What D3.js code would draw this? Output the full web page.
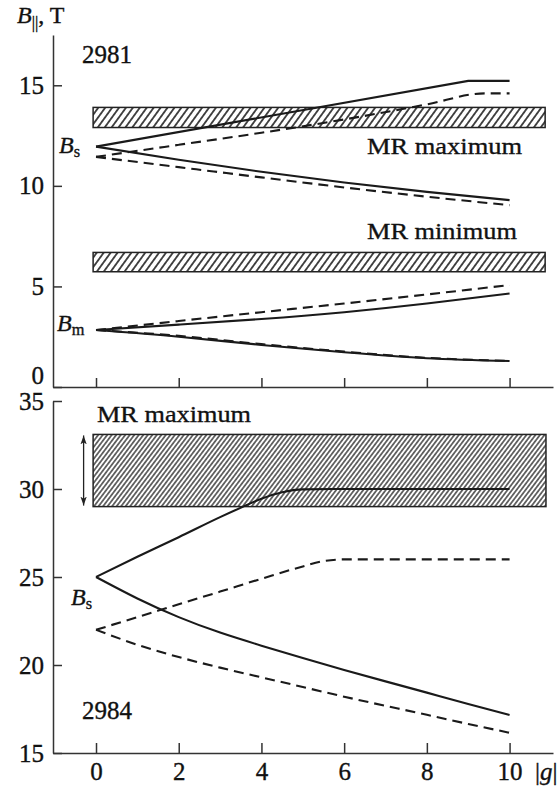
<!DOCTYPE html>
<html>
<head>
<meta charset="utf-8">
<script src="https://cdn.jsdelivr.net/npm/d3@7"></script>
<style>
  body { margin: 0; background: #fff; }
  svg text { font-family: "Liberation Serif", "Times New Roman", serif; fill: #111; stroke: #111; stroke-width: 0.35px; }
</style>
</head>
<body>
<div id="chart"></div>
<script>
// |g| ticks and axis ticks
var gTicks = [0, 2, 4, 6, 8, 10];
var topTicks = [0, 5, 10, 15];
var bottomTicks = [15, 20, 25, 30, 35];

// sample 2981 (upper panel), points are [|g|, B]
var s2981SolidUp = [[0, 11.95], [9, 15.22], [10, 15.22]];
var s2981DashUp = [[0, 11.44], [2, 12.04], [4, 12.64], [6, 13.3], [8, 14.05], [9.4, 14.6], [10, 14.6]];
var s2981SolidDown = [[0, 11.95], [2, 11.3], [4, 10.7], [6, 10.17], [8, 9.7], [10, 9.29]];
var s2981DashDown = [[0, 11.44], [2, 10.93], [4, 10.42], [6, 9.92], [8, 9.46], [10, 9.04]];
var m2981SolidUp = [[0, 2.83], [2, 3.1], [4, 3.38], [6, 3.72], [8, 4.15], [10, 4.65]];
var m2981DashUp = [[0, 2.83], [2, 3.28], [4, 3.72], [6, 4.15], [8, 4.6], [10, 5.07]];
var m2981SolidDown = [[0, 2.83], [2, 2.5], [4, 2.09], [6, 1.73], [8, 1.43], [10, 1.29]];
var m2981DashDown = [[0, 2.83], [2, 2.54], [4, 2.13], [6, 1.76], [8, 1.45], [10, 1.3]];

// sample 2984 (lower panel)
var s2984SolidUp = [[0, 25], [1, 26.15], [2, 27.26], [3, 28.4], [3.56, 29.0], [4, 29.45], [4.5, 29.82], [5, 29.98], [6, 30], [10, 30]];
var s2984SolidDown = [[0, 25], [1, 23.78], [2, 22.72], [3, 21.84], [4, 21.1], [5, 20.4], [6, 19.72], [7, 19.07], [8, 18.43], [9, 17.79], [10, 17.16]];
var s2984DashUp = [[0, 22], [1, 22.72], [2, 23.45], [3, 24.17], [4, 24.9], [5, 25.6], [5.5, 25.9], [6, 26], [10, 26]];
var s2984DashDown = [[0, 22], [1, 21.15], [2, 20.45], [3, 19.85], [4, 19.3], [5, 18.75], [6, 18.2], [7, 17.68], [8, 17.17], [9, 16.65], [10, 16.15]];

// MR extrema bands: [g from, g to, B low, B high]
var bandTopMax = [-0.07, 10.86, 12.9, 13.9];
var bandTopMin = [-0.07, 10.86, 5.73, 6.69];
var bandBottomMax = [-0.07, 10.88, 29.0, 33.1];

var svg = d3.select("#chart").append("svg")
    .attr("width", 558)
    .attr("height", 789);

var defs = svg.append("defs");

function hatch(id, w, angle, sw) {
    var p = defs.append("pattern")
        .attr("id", id)
        .attr("patternUnits", "userSpaceOnUse")
        .attr("width", w)
        .attr("height", 10)
        .attr("patternTransform", "rotate(" + angle + ")");
    p.append("rect").attr("width", w).attr("height", 10).attr("fill", "#fff");
    p.append("line")
        .attr("x1", w / 2).attr("x2", w / 2)
        .attr("y1", 0).attr("y2", 10)
        .attr("stroke", "#111")
        .attr("stroke-width", sw);
}
hatch("hatchTop", 5.6, 36, 1.5);
hatch("hatchBottom", 3.6, 37, 1.2);

defs.append("marker")
    .attr("id", "arrow")
    .attr("viewBox", "0 0 10 10")
    .attr("refX", 10).attr("refY", 5)
    .attr("markerWidth", 9).attr("markerHeight", 9)
    .attr("markerUnits", "userSpaceOnUse")
    .attr("orient", "auto-start-reverse")
    .append("path")
    .attr("d", "M0,1.5 L10,5 L0,8.5 L2.5,5 Z")
    .attr("fill", "#222");

// scales
var x = d3.scaleLinear().domain([-1.04, 11.05]).range([53, 553]);
var yTop = d3.scaleLinear().domain([0, 17.5]).range([387, 35]);
var yBot = d3.scaleLinear().domain([15, 35]).range([753, 401]);

function styleAxis(g) {
    g.selectAll("path, line").attr("stroke", "#333").attr("stroke-width", 1.5);
    g.selectAll("text")
        .style("font-family", "'Liberation Serif', serif")
        .style("font-size", "25px")
        .attr("fill", "#111");
}

// upper panel axes
svg.append("g")
    .attr("transform", "translate(0," + yTop(0) + ")")
    .call(d3.axisBottom(x).tickValues(gTicks).tickSizeInner(-9).tickSizeOuter(0).tickFormat(""))
    .call(styleAxis);

var topY = svg.append("g")
    .attr("transform", "translate(" + x.range()[0] + ",0)")
    .call(d3.axisLeft(yTop).tickValues(topTicks).tickSizeInner(-9).tickSizeOuter(0).tickPadding(9))
    .call(styleAxis);
topY.selectAll(".tick text").attr("dy", function(d) { return d === 0 ? "-0.15em" : "0.32em"; });

// lower panel axes
svg.append("g")
    .attr("transform", "translate(0," + yBot(15) + ")")
    .call(d3.axisBottom(x).tickValues(gTicks).tickSizeInner(-10).tickSizeOuter(0).tickPadding(9))
    .call(styleAxis);

svg.append("g")
    .attr("transform", "translate(" + x.range()[0] + ",0)")
    .call(d3.axisLeft(yBot).tickValues(bottomTicks).tickSizeInner(-9).tickSizeOuter(0).tickPadding(9))
    .call(styleAxis);

// hatched bands
function band(b, yS, fill) {
    svg.append("rect")
        .attr("x", x(b[0]))
        .attr("y", yS(b[3]))
        .attr("width", x(b[1]) - x(b[0]))
        .attr("height", yS(b[2]) - yS(b[3]))
        .attr("fill", "url(#" + fill + ")")
        .attr("stroke", "#222")
        .attr("stroke-width", 1.5);
}
band(bandTopMax, yTop, "hatchTop");
band(bandTopMin, yTop, "hatchTop");
band(bandBottomMax, yBot, "hatchBottom");

// arrow marking the width of the lower band
svg.append("line")
    .attr("x1", x(-0.3)).attr("x2", x(-0.3))
    .attr("y1", yBot(bandBottomMax[3]) + 1)
    .attr("y2", yBot(bandBottomMax[2]) - 1)
    .attr("stroke", "#222")
    .attr("stroke-width", 1.3)
    .attr("marker-start", "url(#arrow)")
    .attr("marker-end", "url(#arrow)");

// curves
function draw(data, yS, dashed, curve) {
    var line = d3.line()
        .x(function(d) { return x(d[0]); })
        .y(function(d) { return yS(d[1]); })
        .curve(curve);
    svg.append("path")
        .datum(data)
        .attr("d", line)
        .attr("fill", "none")
        .attr("stroke", "#1a1a1a")
        .attr("stroke-width", 2.1)
        .attr("stroke-dasharray", dashed ? "10,6" : null);
}
draw(s2981SolidUp, yTop, false, d3.curveLinear);
draw(s2981DashUp, yTop, true, d3.curveMonotoneX);
draw(s2981SolidDown, yTop, false, d3.curveNatural);
draw(s2981DashDown, yTop, true, d3.curveNatural);
draw(m2981DashUp, yTop, true, d3.curveNatural);
draw(m2981SolidUp, yTop, false, d3.curveNatural);
draw(m2981DashDown, yTop, true, d3.curveNatural);
draw(m2981SolidDown, yTop, false, d3.curveNatural);
draw(s2984SolidUp, yBot, false, d3.curveMonotoneX);
draw(s2984SolidDown, yBot, false, d3.curveNatural);
draw(s2984DashUp, yBot, true, d3.curveMonotoneX);
draw(s2984DashDown, yBot, true, d3.curveNatural);

// labels
function label(tx, ty, size, parts) {
    var t = svg.append("text").attr("x", tx).attr("y", ty).style("font-size", size + "px");
    parts.forEach(function(p) {
        var s = t.append("tspan").text(p.text);
        if (p.italic) s.style("font-style", "italic");
        if (p.small) s.style("font-size", (size * 0.68) + "px");
        if (p.dy) s.attr("dy", p.dy);
    });
    return t;
}

label(17, 23, 24, [{text: "B", italic: true}, {text: "||", small: true, dy: 5}, {text: ", T", dy: -5}]);
label(59, 153, 24, [{text: "B", italic: true}, {text: "s", small: true, dy: 4}]);
label(57, 331, 24, [{text: "B", italic: true}, {text: "m", small: true, dy: 4}]);
label(71, 605, 24, [{text: "B", italic: true}, {text: "s", small: true, dy: 4}]);

label(82, 63, 25, [{text: "2981"}]);
label(82, 719, 25, [{text: "2984"}]);

label(367, 154, 24, [{text: "MR maximum"}]).attr("textLength", 155).attr("lengthAdjust", "spacingAndGlyphs");
label(367, 239, 24, [{text: "MR minimum"}]).attr("textLength", 150).attr("lengthAdjust", "spacingAndGlyphs");
label(97, 422, 24, [{text: "MR maximum"}]).attr("textLength", 154).attr("lengthAdjust", "spacingAndGlyphs");

label(535, 780, 25, [{text: "|"}, {text: "g", italic: true}, {text: "|"}]);
</script>
</body>
</html>
